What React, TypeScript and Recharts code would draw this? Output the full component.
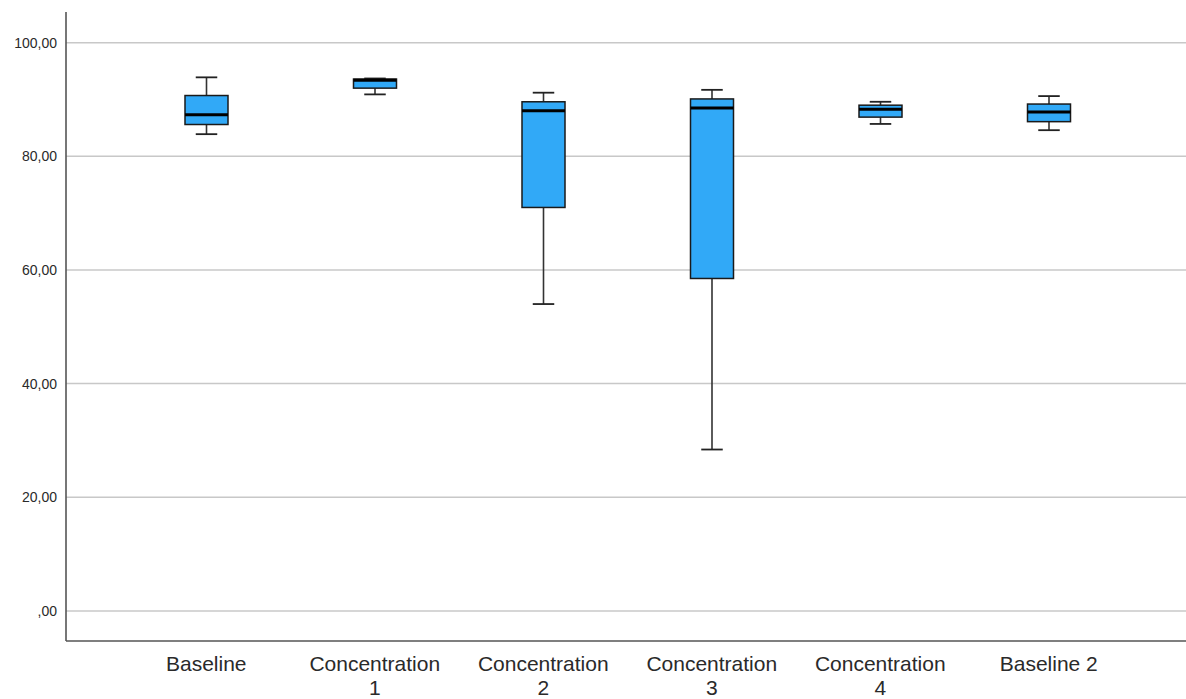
import React from "react";
import {
  ComposedChart,
  Bar,
  XAxis,
  YAxis,
  CartesianGrid,
} from "recharts";

// five-number summaries per condition
const categories = [
  "Baseline",
  "Concentration 1",
  "Concentration 2",
  "Concentration 3",
  "Concentration 4",
  "Baseline 2",
];
const mins = [83.9, 90.9, 54.0, 28.4, 85.7, 84.6];
const q1s = [85.6, 92.0, 71.0, 58.5, 86.9, 86.1];
const medians = [87.3, 93.4, 88.0, 88.5, 88.3, 87.8];
const q3s = [90.7, 93.6, 89.6, 90.1, 89.0, 89.2];
const maxs = [93.9, 93.7, 91.2, 91.7, 89.6, 90.6];

const yTicks = [0, 20, 40, 60, 80, 100];

const BOX_FILL = "#31a9f7";
const FONT = "'Liberation Sans', Arial, sans-serif";

const data = categories.map((name, i) => ({
  name,
  min: mins[i],
  q1: q1s[i],
  median: medians[i],
  q3: q3s[i],
  max: maxs[i],
  range: [mins[i], maxs[i]],
}));

const formatY = (v: number) => (v === 0 ? ",00" : v.toFixed(2).replace(".", ","));

// bar spans min..max, so the other stats are placed along the same scaled span
const BoxShape = (props: any) => {
  const { x, y, width, height, payload } = props;
  const span = payload.max - payload.min;
  const toY = (v: number) => y + (height * (payload.max - v)) / span;
  const cx = x + width / 2;
  const cap = width / 4;
  const yMax = toY(payload.max);
  const yQ3 = toY(payload.q3);
  const yMed = toY(payload.median);
  const yQ1 = toY(payload.q1);
  const yMin = toY(payload.min);
  return (
    <g>
      <line x1={cx} x2={cx} y1={yMax} y2={yQ3} stroke="#333" strokeWidth={1.6} />
      <line x1={cx} x2={cx} y1={yQ1} y2={yMin} stroke="#333" strokeWidth={1.6} />
      <line x1={cx - cap} x2={cx + cap} y1={yMax} y2={yMax} stroke="#222" strokeWidth={1.8} />
      <line x1={cx - cap} x2={cx + cap} y1={yMin} y2={yMin} stroke="#222" strokeWidth={1.8} />
      <rect
        x={x}
        y={yQ3}
        width={width}
        height={Math.max(yQ1 - yQ3, 1)}
        fill={BOX_FILL}
        stroke="#1a1a1a"
        strokeWidth={1.5}
      />
      <line x1={x} x2={x + width} y1={yMed} y2={yMed} stroke="#000" strokeWidth={3} />
    </g>
  );
};

const CategoryTick = (props: any) => {
  const { x, y, payload } = props;
  const label: string = payload.value;
  const lines = label.startsWith("Concentration") ? label.split(" ") : [label];
  return (
    <text x={x} y={y} textAnchor="middle" fill="#2a2a2a" fontSize={21} fontFamily={FONT}>
      {lines.map((line, i) => (
        <tspan key={i} x={x} y={y + 30 + i * 24}>
          {line}
        </tspan>
      ))}
    </text>
  );
};

export default function App() {
  return (
    <div style={{ position: "absolute", left: 0, top: 0, background: "#fff" }}>
      <ComposedChart
        width={1186}
        height={699}
        data={data}
        margin={{ top: 12, right: 0, bottom: 0, left: 0 }}
      >
        <CartesianGrid
          vertical={false}
          syncWithTicks
          stroke="#c8c8c8"
          strokeWidth={1.5}
        />
        <XAxis
          dataKey="name"
          type="category"
          height={58}
          padding={{ left: 56, right: 53 }}
          tickLine={false}
          tickSize={0}
          tickMargin={0}
          interval={0}
          axisLine={{ stroke: "#555", strokeWidth: 1.6 }}
          tick={<CategoryTick />}
        />
        <YAxis
          type="number"
          width={66}
          domain={[-5.3, 105.4]}
          ticks={yTicks}
          allowDataOverflow
          tickLine={false}
          tickSize={7}
          tickMargin={2}
          tickFormatter={formatY}
          axisLine={{ stroke: "#555", strokeWidth: 1.6 }}
          tick={{ fill: "#2a2a2a", fontSize: 14, fontFamily: FONT }}
        />
        <Bar
          dataKey="range"
          barSize={43}
          shape={<BoxShape />}
          isAnimationActive={false}
        />
      </ComposedChart>
    </div>
  );
}
